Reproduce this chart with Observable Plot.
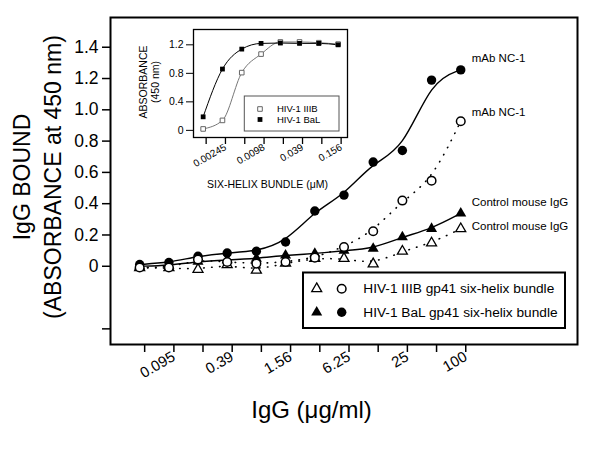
<!DOCTYPE html>
<html><head><meta charset="utf-8">
<script src="https://cdn.jsdelivr.net/npm/d3@7"></script>
<script src="https://cdn.jsdelivr.net/npm/@observablehq/plot@0.6"></script>
<style>
html,body{margin:0;padding:0;background:#fff;}
#wrap{position:relative;width:600px;height:449px;overflow:hidden;font-family:"Liberation Sans",Arial,sans-serif;}
#wrap > svg{position:absolute;}
</style></head><body><div id="wrap"></div>
<script>
// ---- main chart data ----
const iggConc = [0.0488, 0.0977, 0.195, 0.39, 0.78, 1.56, 3.125, 6.25, 12.5, 25, 50, 100];
const iggTickLabels = ["", "0.095", "", "0.39", "", "1.56", "", "6.25", "", "25", "", "100"];
const balNC1   = [0.011, 0.024, 0.064, 0.085, 0.096, 0.155, 0.353, 0.455, 0.666, 0.74, 1.19, 1.255];
const iiibNC1  = [-0.008, -0.008, 0.043, 0.027, 0.017, 0.027, 0.055, 0.123, 0.224, 0.42, 0.547, 0.927];
const balCtrl  = [0.0, 0.005, 0.03, 0.04, 0.05, 0.07, 0.081, 0.10, 0.113, 0.187, 0.24, 0.338];
const iiibCtrl = [-0.01, -0.01, -0.02, 0.01, -0.025, 0.02, 0.05, 0.05, 0.015, 0.096, 0.149, 0.24];
const yTickValues = [-0.4, 0, 0.2, 0.4, 0.6, 0.8, 1.0, 1.2, 1.4];
const yTickLabels = ["", "0", "0.2", "0.4", "0.6", "0.8", "1.0", "1.2", "1.4"];
const seriesLabels = ["mAb NC-1", "mAb NC-1", "Control mouse IgG", "Control mouse IgG"];
const legendLabels = ["HIV-1 IIIB gp41 six-helix bundle", "HIV-1 BaL gp41 six-helix bundle"];

// ---- inset data ----
const sixHelix = [0.001225, 0.00245, 0.0049, 0.0098, 0.0196, 0.039, 0.078, 0.156];
const sixHelixLabels = ["", "0.00245", "", "0.0098", "", "0.039", "", "0.156"];
const insetIIIB = [0.02, 0.14, 0.81, 1.07, 1.24, 1.24, 1.23, 1.21];
const insetBaL  = [0.19, 0.86, 1.14, 1.22, 1.225, 1.22, 1.22, 1.20];
const insetYTicks = [0, 0.4, 0.8, 1.2];
const insetYLabels = ["0", "0.4", "0.8", "1.2"];
const insetLegend = ["HIV-1 IIIB", "HIV-1 BaL"];

const FONT = '"Liberation Sans", Arial, Helvetica, sans-serif';
const mk = (xs, ys) => xs.map((x, i) => ({x, y: ys[i]}));
const last = (xs, ys, label) => [{x: xs[xs.length - 1], y: ys[ys.length - 1], label}];

const wrap = document.getElementById("wrap");

const dotted = {x: "x", y: "y", curve: "basis", stroke: "black", strokeWidth: 1.6, strokeDasharray: "0.5,7.5", strokeLinecap: "round"};
const solid = {x: "x", y: "y", curve: "basis", stroke: "black", strokeWidth: 1.4};

const main = Plot.plot({
  width: 600, height: 449,
  marginLeft: 110, marginRight: 23, marginTop: 17, marginBottom: 105,
  x: {type: "log", base: 2, domain: [100 / 4096, 1600]},
  y: {domain: [-0.5, 1.59]},
  style: {fontFamily: FONT, background: "white", overflow: "visible", color: "black"},
  marks: [
    Plot.axisY({ticks: yTickValues, tickFormat: d => yTickLabels[yTickValues.indexOf(d)], tickSize: 8, tickPadding: 4, fontSize: 17.5, label: null, strokeWidth: 1.5}),
    Plot.axisX({ticks: iggConc, tickFormat: d => iggTickLabels[iggConc.indexOf(d)], tickSize: 8, tickPadding: 3, tickRotate: -30, fontSize: 15, label: null, strokeWidth: 1.5, dx: 5}),
    Plot.line(mk(iggConc, iiibCtrl), dotted),
    Plot.line(mk(iggConc, iiibNC1), dotted),
    Plot.line(mk(iggConc, balCtrl), solid),
    Plot.line(mk(iggConc, balNC1), solid),
    Plot.dot(mk(iggConc, balNC1), {x: "x", y: "y", symbol: "circle", r: 4.7, fill: "black"}),
    Plot.dot(mk(iggConc, balCtrl), {x: "x", y: "y", symbol: "triangle", r: 4.1, fill: "black"}),
    Plot.dot(mk(iggConc, iiibCtrl), {x: "x", y: "y", symbol: "triangle", r: 3.7, fill: "white", stroke: "black", strokeWidth: 1.3}),
    Plot.dot(mk(iggConc, iiibNC1), {x: "x", y: "y", symbol: "circle", r: 4.3, fill: "white", stroke: "black", strokeWidth: 1.5}),
    Plot.text(last(iggConc, balNC1, seriesLabels[0]), {x: "x", y: "y", text: "label", dx: 11, dy: -12, textAnchor: "start", fontSize: 11.5}),
    Plot.text(last(iggConc, iiibNC1, seriesLabels[1]), {x: "x", y: "y", text: "label", dx: 11, dy: -9, textAnchor: "start", fontSize: 11.5}),
    Plot.text(last(iggConc, balCtrl, seriesLabels[2]), {x: "x", y: "y", text: "label", dx: 11, dy: -11, textAnchor: "start", fontSize: 11.5}),
    Plot.text(last(iggConc, iiibCtrl, seriesLabels[3]), {x: "x", y: "y", text: "label", dx: 11, dy: -2.5, textAnchor: "start", fontSize: 11.5}),
    Plot.text(["IgG BOUND\n(ABSORBANCE at 450 nm)"], {frameAnchor: "left", text: d => d, rotate: -90, dx: -75, dy: -4, fontSize: 23, lineHeight: 1.35, textAnchor: "middle", lineAnchor: "middle"}),
    Plot.text(["IgG (\u03bcg/ml)"], {frameAnchor: "bottom", text: d => d, dx: -32.5, dy: 66, fontSize: 24, textAnchor: "middle", lineAnchor: "middle"}),
    Plot.frame({stroke: "black", strokeWidth: 2})
  ]
});
main.style.left = "0px"; main.style.top = "0px";
wrap.appendChild(main);

const inset = Plot.plot({
  width: 230, height: 180,
  marginLeft: 63, marginRight: 13, marginTop: 9, marginBottom: 63,
  x: {type: "log", base: 2, domain: [0.001225 / Math.SQRT2, 0.156 * 1.4]},
  y: {domain: [-0.1, 1.415]},
  style: {fontFamily: FONT, background: "transparent", overflow: "visible", color: "black"},
  marks: [
    Plot.frame({fill: "white", stroke: "none"}),
    Plot.axisY({ticks: insetYTicks, tickFormat: d => insetYLabels[insetYTicks.indexOf(d)], tickSize: 7, tickPadding: 3, fontSize: 10.5, label: null}),
    Plot.axisX({ticks: sixHelix, tickFormat: d => sixHelixLabels[sixHelix.indexOf(d)], tickSize: 7, tickPadding: 2, tickRotate: -30, fontSize: 10, label: null, strokeWidth: 1.3, dx: 3}),
    Plot.line(mk(sixHelix, insetIIIB), {x: "x", y: "y", curve: "monotone-x", stroke: "#777", strokeWidth: 1}),
    Plot.line(mk(sixHelix, insetBaL), {x: "x", y: "y", curve: "monotone-x", stroke: "black", strokeWidth: 1}),
    Plot.dot(mk(sixHelix, insetIIIB), {x: "x", y: "y", symbol: "square", r: 2.6, fill: "white", stroke: "#666", strokeWidth: 1}),
    Plot.dot(mk(sixHelix, insetBaL), {x: "x", y: "y", symbol: "square", r: 2.7, fill: "black"}),
    Plot.text(["SIX-HELIX BUNDLE (\u03bcM)"], {frameAnchor: "bottom", text: d => d, dx: -3, dy: 47, fontSize: 10.5, textAnchor: "middle", lineAnchor: "middle"}),
    Plot.text(["ABSORBANCE\n(450 nm)"], {frameAnchor: "left", text: d => d, rotate: -90, dx: -44, dy: -1.5, fontSize: 10.5, lineHeight: 1.15, textAnchor: "middle", lineAnchor: "middle"}),
    Plot.frame({stroke: "black", strokeWidth: 1.3})
  ]
});
inset.style.left = "130px"; inset.style.top = "20px";
wrap.appendChild(inset);

// ---- legends (overlay) ----
const ov = d3.select(wrap).append("svg")
  .attr("width", 600).attr("height", 449)
  .style("left", "0px").style("top", "0px").style("pointer-events", "none")
  .style("font-family", FONT);
const sym = (type, r) => d3.symbol(type, r * r * Math.PI)();

// main legend
ov.append("rect").attr("x", 303).attr("y", 272.5).attr("width", 262).attr("height", 55.5)
  .attr("fill", "white").attr("stroke", "black").attr("stroke-width", 2);
const rowsY = [288.7, 312.3];
rowsY.forEach((ry, i) => {
  const open = i === 0;
  ov.append("path").attr("d", sym(d3.symbolTriangle, open ? 3.7 : 4.1))
    .attr("transform", `translate(316.7,${ry})`)
    .attr("fill", open ? "white" : "black").attr("stroke", open ? "black" : "none").attr("stroke-width", 1.3);
  ov.append("path").attr("d", sym(d3.symbolCircle, open ? 4.3 : 4.7))
    .attr("transform", `translate(341.7,${ry})`)
    .attr("fill", open ? "white" : "black").attr("stroke", open ? "black" : "none").attr("stroke-width", 1.5);
  ov.append("text").attr("x", 363.3).attr("y", ry).attr("dy", "0.35em")
    .attr("font-size", 13.7).text(legendLabels[i]);
});

// inset legend
ov.append("rect").attr("x", 244.3).attr("y", 96).attr("width", 94.7).attr("height", 35)
  .attr("fill", "white").attr("stroke", "#555").attr("stroke-width", 1);
[109, 119.5].forEach((ry, i) => {
  const open = i === 0;
  ov.append("path").attr("d", sym(d3.symbolSquare, open ? 2.6 : 2.7))
    .attr("transform", `translate(260,${ry})`)
    .attr("fill", open ? "white" : "black").attr("stroke", open ? "#666" : "none").attr("stroke-width", 1);
  ov.append("text").attr("x", 277).attr("y", ry).attr("dy", "0.35em")
    .attr("font-size", 9.5).text(insetLegend[i]);
});
</script></body></html>
